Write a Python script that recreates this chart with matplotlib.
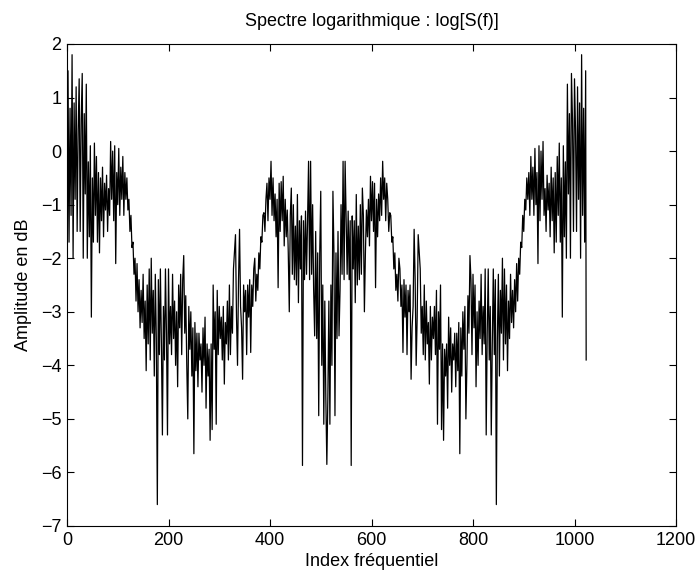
import numpy as np
import matplotlib.pyplot as plt

# log-spectrum, every 2 bins for bins 0..512
# (the spectrum of a real signal is symmetric, bins 514..1022 mirror 2..510)
half_values = [
    -3.6, 1.5, -1.7, 0.8, -1.2, 1.8, -2.0, 0.9, -0.9, 1.2,
    -1.5, 0.4, 1.35, -1.5, 0.6, 1.45, -2.0, 0.7, -0.8, 1.25,
    -2.0, -0.2, -1.6, 0.1, -3.1, -0.5, -1.7, 0.15, -1.2, -0.1,
    -1.7, -0.4, -1.9, -0.5, -1.3, -0.3, -1.6, -0.6, -1.1, -0.45,
    -1.5, -0.7, -1.2, 0.18, -0.9, 0.0, -1.3, 0.1, -2.1, -0.4,
    -1.0, 0.05, -1.2, -0.3, -0.9, -0.1, -1.2, -0.4, -0.9, -0.5,
    -1.1, -0.9, -1.5, -1.2, -1.8, -1.7, -2.3, -2.0, -2.8, -2.1,
    -3.0, -2.4, -3.3, -2.6, -3.2, -2.3, -3.5, -2.8, -4.1, -2.5,
    -3.6, -2.2, -3.9, -2.0, -3.4, -2.6, -4.2, -2.3, -3.5, -6.6,
    -2.4, -3.8, -2.2, -3.6, -5.3, -2.9, -3.9, -2.2, -3.4, -5.3,
    -2.2, -3.6, -2.9, -3.8, -2.3, -3.5, -2.8, -4.0, -3.0, -4.4,
    -2.5, -3.3, -2.3, -3.8, -2.4, -1.95, -3.4, -2.7, -4.0, -5.0,
    -2.9, -3.7, -3.0, -4.2, -3.3, -5.65, -3.2, -4.1, -3.4, -4.4,
    -3.4, -3.9, -3.6, -4.5, -3.3, -4.0, -3.1, -4.8, -3.6, -4.2,
    -3.7, -5.4, -3.6, -5.2, -2.5, -3.7, -3.0, -5.1, -2.6, -3.8,
    -2.9, -3.5, -3.1, -3.9, -2.9, -4.35, -3.2, -3.6, -2.8, -3.9,
    -2.5, -3.8, -2.9, -3.4, -2.2, -1.87, -1.56, -3.1, -4.0, -2.4,
    -1.46, -2.9, -3.3, -4.26, -2.5, -3.0, -2.6, -3.8, -2.5, -3.1,
    -2.4, -3.76, -2.5, -2.9, -2.2, -2.0, -2.8, -2.3, -2.6, -1.9,
    -2.2, -1.6, -1.7, -1.2, -1.15, -1.5, -0.9, -0.6, -1.3, -0.5,
    -0.9, -0.19, -1.2, -0.5, -1.3, -0.8, -1.6, -0.9, -2.55, -0.6,
    -1.5, -0.57, -1.3, -0.47, -1.77, -0.9, -1.6, -1.1, -1.9, -3.0,
    -1.2, -0.69, -2.3, -1.0, -2.4, -1.4, -2.5, -0.81, -2.83, -1.3,
    -2.2, -1.21, -5.87, -1.3, -2.4, -1.12, -2.3, -1.3, -0.19, -2.4,
    -0.19, -2.3, -1.0, -2.6, -3.45, -1.5, -3.5, -1.9, -4.94, -1.9,
    -0.75, -4.0, -2.5, -5.1, -2.8, -4.6, -5.85,
]
last_value = -3.9  # bin 1023

spectrum = half_values + half_values[-2:0:-1] + [last_value]
bins = list(range(0, 1024, 2)) + [1023]

plt.rcParams['font.family'] = ['Liberation Sans', 'DejaVu Sans']

fig = plt.figure(figsize=(6.96, 5.72), dpi=100)
ax = fig.add_axes([67 / 696, 46 / 572, 609 / 696, 482 / 572])
ax.plot(bins, spectrum, color='black', linewidth=0.9)

ax.set_xlim(0, 1200)
ax.set_ylim(-7, 2)
ax.set_xticks(range(0, 1201, 200))
ax.set_yticks(range(-7, 3))
ax.set_yticklabels(['\u2212' + str(-t) if t < 0 else str(t) for t in range(-7, 3)])
ax.tick_params(direction='in', top=True, right=True, length=5, labelsize=13, pad=4)
for s in ax.spines.values():
    s.set_linewidth(0.8)

ax.set_title('Spectre logarithmique : log[S(f)]', fontsize=13, pad=13)
ax.set_xlabel('Index fréquentiel', fontsize=13, labelpad=3)
ax.set_ylabel('Amplitude en dB', fontsize=13, labelpad=6)

fig.savefig('out.png', dpi=100)
